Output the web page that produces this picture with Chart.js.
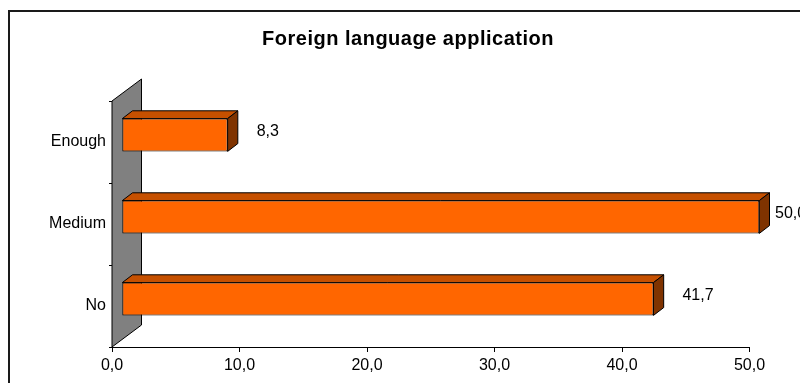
<!DOCTYPE html>
<html>
<head>
<meta charset="utf-8">
<script src="https://cdn.jsdelivr.net/npm/chart.js@4/dist/chart.umd.min.js"></script>
<style>
  html, body { margin: 0; padding: 0; background: #fff; }
  #wrap { position: relative; width: 800px; height: 383px; }
</style>
</head>
<body>
<div id="wrap"><canvas id="chart" width="800" height="383"></canvas></div>
<script>
// Survey answers, percent of respondents
const categories = ['Enough', 'Medium', 'No'];
const shares = [8.3, 50.0, 41.7];
const axisTicks = [0, 10, 20, 30, 40, 50];
const chartTitle = 'Foreign language application';

const FONT = "'Liberation Sans', Arial, sans-serif";
const fmt = v => Number(v).toFixed(1).replace('.', ',');

// 3D look: back wall depth and bar slab placement inside that depth
const WALL_DX = 29.5, WALL_DY = 22;
const FRONT_DX = 9.8, FRONT_DY = -7.0;
const SLAB_DX = 10.2, SLAB_DY = 7.8;

// outer frame and the heading, centred on the framed box
const frame = {
  id: 'frame',
  beforeDraw(chart) {
    const ctx = chart.ctx;
    ctx.save();
    ctx.strokeStyle = '#1a1a1a';
    ctx.lineWidth = 2;
    ctx.beginPath();
    ctx.moveTo(9, 383);
    ctx.lineTo(9, 11);
    ctx.lineTo(800, 11);
    ctx.stroke();

    ctx.fillStyle = '#000';
    ctx.font = 'bold 20px ' + FONT;
    if ('letterSpacing' in ctx) ctx.letterSpacing = '0.5px';
    ctx.textAlign = 'center';
    ctx.textBaseline = 'middle';
    ctx.fillText(chartTitle, 408, 39);
    ctx.restore();
  }
};

const depth = {
  id: 'depth',
  beforeDatasetsDraw(chart) {
    const { ctx, chartArea: a } = chart;
    ctx.save();
    // grey back wall standing on the value axis origin
    ctx.beginPath();
    ctx.moveTo(a.left, a.bottom);
    ctx.lineTo(a.left, a.top);
    ctx.lineTo(a.left + WALL_DX, a.top - WALL_DY);
    ctx.lineTo(a.left + WALL_DX, a.bottom - WALL_DY);
    ctx.closePath();
    ctx.fillStyle = '#808080';
    ctx.fill();
    ctx.strokeStyle = '#000';
    ctx.lineWidth = 1;
    ctx.stroke();

    // top and end faces of each slab
    const meta = chart.getDatasetMeta(0);
    meta.data.forEach(bar => {
      const p = bar.getProps(['x', 'y', 'base', 'height'], true);
      const l = p.base + FRONT_DX, r = p.x + FRONT_DX;
      const t = p.y - p.height / 2 + FRONT_DY, b = p.y + p.height / 2 + FRONT_DY;
      ctx.beginPath();
      ctx.moveTo(l, t);
      ctx.lineTo(r, t);
      ctx.lineTo(r + SLAB_DX, t - SLAB_DY);
      ctx.lineTo(l + SLAB_DX, t - SLAB_DY);
      ctx.closePath();
      ctx.fillStyle = '#C65000';
      ctx.fill();
      ctx.stroke();
      ctx.beginPath();
      ctx.moveTo(r, t);
      ctx.lineTo(r + SLAB_DX, t - SLAB_DY);
      ctx.lineTo(r + SLAB_DX, b - SLAB_DY);
      ctx.lineTo(r, b);
      ctx.closePath();
      ctx.fillStyle = '#7F3300';
      ctx.fill();
      ctx.stroke();
    });
    // front faces are drawn by the bar controller, shifted into the slab depth
    ctx.translate(FRONT_DX, FRONT_DY);
  },
  afterDatasetsDraw(chart) {
    const { ctx, chartArea: a } = chart;
    ctx.restore();
    const meta = chart.getDatasetMeta(0);
    ctx.save();
    ctx.fillStyle = '#000';
    ctx.font = '16px ' + FONT;
    ctx.textAlign = 'left';
    ctx.textBaseline = 'middle';
    meta.data.forEach((bar, i) => {
      const p = bar.getProps(['x', 'y'], true);
      const x = Math.min(p.x + FRONT_DX + 29, a.right + 25.5);
      const y = p.y + FRONT_DY - SLAB_DY / 2;
      ctx.fillText(fmt(shares[i]), x, y);
    });
    ctx.restore();
  }
};

new Chart(document.getElementById('chart'), {
  type: 'bar',
  data: {
    labels: categories,
    datasets: [{
      data: shares,
      backgroundColor: '#FF6600',
      borderColor: '#000',
      borderWidth: 1,
      borderSkipped: false,
      categoryPercentage: 1,
      barPercentage: 0.4,
      clip: false
    }]
  },
  options: {
    indexAxis: 'y',
    responsive: false,
    animation: false,
    events: [],
    layout: { padding: { left: 16, right: 50.5, top: 101, bottom: 0 } },
    plugins: {
      legend: { display: false },
      tooltip: { enabled: false },
      title: { display: false }
    },
    scales: {
      x: {
        min: 0,
        max: 50,
        afterBuildTicks: s => { s.ticks = axisTicks.map(v => ({ value: v })); },
        afterFit: s => { s.height = 36; },
        border: { display: true, color: '#000', width: 1 },
        grid: { display: true, drawOnChartArea: false, drawTicks: true, tickLength: 5, color: '#000' },
        ticks: {
          color: '#000',
          padding: 4,
          maxRotation: 0,
          font: { family: FONT, size: 16 },
          callback: v => fmt(v)
        }
      },
      y: {
        afterFit: s => { s.width = 96; },
        border: { display: true, color: '#000', width: 1 },
        grid: { display: true, offset: true, drawOnChartArea: false, drawTicks: true, tickLength: 3, color: '#000' },
        ticks: {
          color: '#000',
          padding: 3,
          font: { family: FONT, size: 16 }
        }
      }
    }
  },
  plugins: [frame, depth]
});
</script>
</body>
</html>
